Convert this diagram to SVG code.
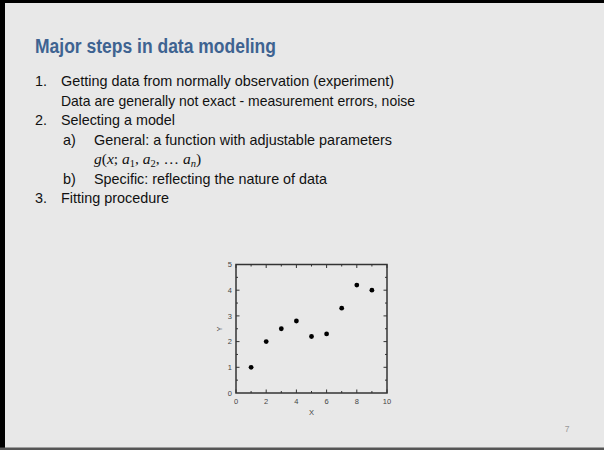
<svg xmlns="http://www.w3.org/2000/svg" width="604" height="450" viewBox="0 0 604 450">
<style>
.body{font-family:"Liberation Sans",Arial,sans-serif;font-size:14.4px;fill:#111}
.title{font-family:"Liberation Sans",Arial,sans-serif;font-size:20px;font-weight:bold;fill:#3e6391}
.math{font-family:"Liberation Serif","Times New Roman",serif;font-size:15.5px;fill:#111}
.tick{font-family:"Liberation Sans",Arial,sans-serif;font-size:7.5px;fill:#444}
.frame{fill:none;stroke:#333;stroke-width:1.5}
.tk{stroke:#333;stroke-width:1}
.pt{fill:#000}
</style>
<rect x="0" y="0" width="604" height="450" fill="#e8e8e8"/>
<rect x="0" y="0" width="604" height="3" fill="#000"/>
<rect x="0" y="0" width="5" height="450" fill="#000"/>
<rect x="0" y="447.5" width="604" height="2.5" fill="#555"/>

<g id="title"><text class="title" x="35" y="53" textLength="241" lengthAdjust="spacingAndGlyphs">Major steps in data modeling</text></g>

<g id="text">
<text class="body" x="35" y="86">1.</text>
<text class="body" x="61" y="86" textLength="333" lengthAdjust="spacingAndGlyphs">Getting data from normally observation (experiment)</text>
<text class="body" x="61" y="105.5" textLength="354" lengthAdjust="spacingAndGlyphs">Data are generally not exact - measurement errors, noise</text>
<text class="body" x="35" y="125">2.</text>
<text class="body" x="61" y="125" textLength="114" lengthAdjust="spacingAndGlyphs">Selecting a model</text>
<text class="body" x="63" y="144.5">a)</text>
<text class="body" x="94" y="144.5" textLength="298" lengthAdjust="spacingAndGlyphs">General: a function with adjustable parameters</text>
<text class="math" x="94" y="164"><tspan font-style="italic">g</tspan>(<tspan font-style="italic">x</tspan>; <tspan font-style="italic">a</tspan><tspan font-size="10.5" dy="3">1</tspan><tspan dy="-3">, </tspan><tspan font-style="italic">a</tspan><tspan font-size="10.5" dy="3">2</tspan><tspan dy="-3">, … </tspan><tspan font-style="italic">a</tspan><tspan font-size="10.5" font-style="italic" dy="3">n</tspan><tspan dy="-3">)</tspan></text>
<text class="body" x="63" y="183.5">b)</text>
<text class="body" x="94" y="183.5" textLength="233" lengthAdjust="spacingAndGlyphs">Specific: reflecting the nature of data</text>
<text class="body" x="35" y="203">3.</text>
<text class="body" x="61" y="203">Fitting procedure</text>
</g>

<g id="plot">
<rect class="frame" x="236" y="264.5" width="151" height="128.5"/>
<g class="tk">
<path d="M236,393v-3.5M266.2,393v-3.5M296.4,393v-3.5M326.6,393v-3.5M356.8,393v-3.5M387,393v-3.5
M251.1,393v-2M281.3,393v-2M311.5,393v-2M341.7,393v-2M371.9,393v-2
M236,264.5v3.5M266.2,264.5v3.5M296.4,264.5v3.5M326.6,264.5v3.5M356.8,264.5v3.5M387,264.5v3.5
M251.1,264.5v2M281.3,264.5v2M311.5,264.5v2M341.7,264.5v2M371.9,264.5v2"/>
<path d="M236,367.3h3.5M236,341.6h3.5M236,315.9h3.5M236,290.2h3.5
M236,380.15h2M236,354.45h2M236,328.75h2M236,303.05h2M236,277.35h2
M387,367.3h-3.5M387,341.6h-3.5M387,315.9h-3.5M387,290.2h-3.5
M387,380.15h-2M387,354.45h-2M387,328.75h-2M387,303.05h-2M387,277.35h-2"/>
</g>
<g class="tick" text-anchor="middle">
<text x="236" y="403.5">0</text>
<text x="266.2" y="403.5">2</text>
<text x="296.4" y="403.5">4</text>
<text x="326.6" y="403.5">6</text>
<text x="356.8" y="403.5">8</text>
<text x="387" y="403.5">10</text>
<text x="311.5" y="415">X</text>
</g>
<g class="tick" text-anchor="end">
<text x="232" y="396">0</text>
<text x="232" y="370">1</text>
<text x="232" y="344.3">2</text>
<text x="232" y="318.6">3</text>
<text x="232" y="292.9">4</text>
<text x="232" y="267.2">5</text>
</g>
<text class="tick" text-anchor="middle" transform="translate(222,329) rotate(-90)">Y</text>
<g class="pt">
<circle cx="251.1" cy="367.3" r="2.4"/>
<circle cx="266.2" cy="341.6" r="2.4"/>
<circle cx="281.3" cy="328.75" r="2.4"/>
<circle cx="296.4" cy="321.0" r="2.4"/>
<circle cx="311.5" cy="336.5" r="2.4"/>
<circle cx="326.6" cy="333.9" r="2.4"/>
<circle cx="341.7" cy="308.2" r="2.4"/>
<circle cx="356.8" cy="285.1" r="2.4"/>
<circle cx="371.9" cy="290.2" r="2.4"/>
</g>
</g>

<g id="page"><text x="567" y="432" font-family="Liberation Sans, Arial, sans-serif" font-size="8.5" fill="#999" text-anchor="middle">7</text></g>
</svg>
